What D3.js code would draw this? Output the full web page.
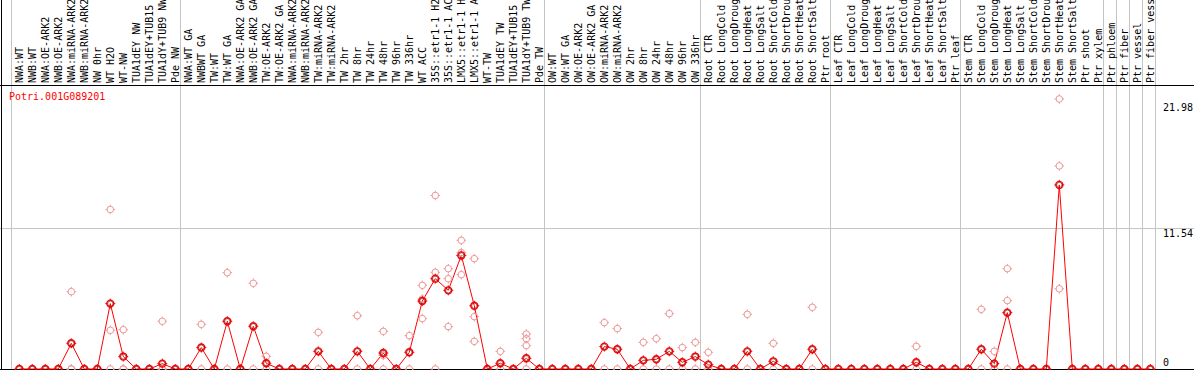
<!DOCTYPE html>
<html>
<head>
<meta charset="utf-8">
<script src="https://cdn.jsdelivr.net/npm/d3@7"></script>
<style>
  body { margin: 0; background: #fff; }
  svg { display: block; }
  text { font-family: "DejaVu Sans Mono", monospace; font-size: 10px; }
</style>
</head>
<body>
<script>

// sample names, one per column
const samples = [
    "NWA:WT", "NWB:WT", "NWA:OE-ARK2", "NWB:OE-ARK2", "NWA:miRNA-ARK2", "NWB:miRNA-ARK2", "NW 0hr", "WT H2O", "WT-NW",
    "TUA1dEY NW", "TUA1dEY+TUB15 NW", "TUA1dY+TUB9 NW", "Pde NW",
    "NWA:WT GA", "NWBWT GA", "TW:WT", "TW:WT GA", "NWA:OE-ARK2 GA", "NWB:OE-ARK2 GA", "TW:OE-ARK2", "TW:OE-ARK2 GA",
    "NWA:miRNA-ARK2", "NWB:miRNA-ARK2", "TW:miRNA-ARK2", "TW:miRNA-ARK2", "TW 2hr", "TW 8hr", "TW 24hr", "TW 48hr",
    "TW 96hr", "TW 336hr", "WT ACC", "35S::etr1-1 H2O", "35S::etr1-1 ACC", "LMX5::etr1-1 H2O", "LMX5::etr1-1 ACC",
    "WT-TW", "TUA1dEY TW", "TUA1dEY+TUB15 TW", "TUA1dY+TUB9 TW", "Pde TW",
    "OW:WT", "OW:WT GA", "OW:OE-ARK2", "OW:OE-ARK2 GA", "OW:miRNA-ARK2", "OW:miRNA-ARK2", "OW 2hr", "OW 8hr",
    "OW 24hr", "OW 48hr", "OW 96hr", "OW 336hr",
    "Root CTR", "Root LongCold", "Root LongDrought", "Root LongHeat", "Root LongSalt", "Root ShortCold",
    "Root ShortDrought", "Root ShortHeat", "Root ShortSalt", "Ptr root",
    "Leaf CTR", "Leaf LongCold", "Leaf LongDrought", "Leaf LongHeat", "Leaf LongSalt", "Leaf ShortCold",
    "Leaf ShortDrought", "Leaf ShortHeat", "Leaf ShortSalt", "Ptr leaf",
    "Stem CTR", "Stem LongCold", "Stem LongDrought", "Stem LongHeat", "Stem LongSalt", "Stem ShortCold",
    "Stem ShortDrought", "Stem ShortHeat", "Stem ShortSalt", "Ptr shoot", "Ptr xylem",
    "Ptr phloem", "Ptr fiber", "Ptr vessel", "Ptr fiber vessel"
]

// first column of every experiment block (last entry = end)
const groupStarts = [0, 13, 41, 53, 63, 73, 84, 85, 86, 87, 88]

// mean expression per sample
const means = [
    0, 0, 0, 0, 2.11, 0, 0, 5.37, 1.02, 0, 0, 0.44, 0,
    0, 1.76, 0, 3.92, 0, 3.51, 0.47, 0, 0, 0, 1.45, 0, 0, 1.45, 0, 1.31, 0, 1.37,
    5.58, 7.42, 6.46, 9.33, 5.2, 0, 0.47, 0, 0.88, 0,
    0, 0, 0, 0, 1.84, 1.62, 0, 0.71, 0.8, 1.45, 0.55, 1.02,
    0.36, 0, 0, 1.45, 0, 0.63, 0, 0, 1.62, 0,
    0, 0, 0, 0, 0, 0, 0.55, 0, 0, 0,
    0, 1.62, 0.44, 4.63, 0, 0, 0, 15.12, 0, 0, 0,
    0, 0, 0, 0
]

// replicate values per sample
const replicates = [
    [], [], [], [], [6.35, 0, 0], [], [], [13.1, 3.18, 0], [3.23, 0, 0], [], [], [3.92, 0, 0], [],
    [], [3.67, 0], [], [7.91, 0], [], [7.04, 0], [1.04, 0], [], [], [], [3.01, 0], [], [], [4.38, 0], [],
    [3.09, 1.12, 0], [], [2.74, 0],
    [6.87, 5.75, 4.14], [14.25, 7.94, 0], [8.24, 7.42, 3.48], [10.57, 9.56, 7.75], [9.06, 4.3, 2.27],
    [], [1.45, 0], [], [2.87, 2.49, 1.92, 0], [],
    [], [], [], [], [3.81, 0], [3.32, 0], [], [2.19, 0], [2.49, 0], [4.55, 0], [1.76, 0], [2.19, 0],
    [1.37, 0], [], [], [4.49, 0], [], [2.11, 0], [], [], [5.07, 0], [],
    [], [], [], [], [], [], [1.86, 0], [], [], [],
    [], [4.9, 0], [1.45, 0], [8.24, 5.62, 0], [], [], [], [22.18, 16.68, 6.59], [], [], [],
    [], [], [], []
]

const yTicks = [0, 11.54, 21.98]
const geneName = "Potri.001G089201"


const width = 1194
const height = 370

const svg = d3.select("body").append("svg")
    .attr("width", width)
    .attr("height", height)

const xScale = d3.scaleLinear()
    .domain([0, samples.length - 1])
    .range([19.3, 19.3 + 13 * (samples.length - 1)])

const yScale = d3.scaleLinear()
    .domain([0, 11.54])
    .range([369, 228.5])

// vertical block separators
svg.append("g").selectAll("line")
    .data(groupStarts)
    .enter()
    .append("line")
    .attr("x1", d => Math.round(xScale(d) - 8) + 0.5)
    .attr("x2", d => Math.round(xScale(d) - 8) + 0.5)
    .attr("y1", 0)
    .attr("y2", height)
    .attr("stroke", "#c4c4c4")

// grid line at middle tick
svg.append("line")
    .attr("x1", 0).attr("x2", width)
    .attr("y1", yScale(11.54)).attr("y2", yScale(11.54))
    .attr("stroke", "#c4c4c4")

// frame
svg.append("line")
    .attr("x1", 0).attr("x2", width)
    .attr("y1", 85.5).attr("y2", 85.5)
    .attr("stroke", "#000")
svg.append("line")
    .attr("x1", 0).attr("x2", width)
    .attr("y1", yScale(0) + 0.5).attr("y2", yScale(0) + 0.5)
    .attr("stroke", "#000")
svg.append("line")
    .attr("x1", 1.5).attr("x2", 1.5)
    .attr("y1", 0).attr("y2", height)
    .attr("stroke", "#000")

// sample labels
svg.append("g").selectAll("text")
    .data(samples)
    .enter()
    .append("text")
    .attr("transform", (d, i) => "translate(" + xScale(i) + ",83) rotate(-90)")
    .attr("dominant-baseline", "central")
    .attr("fill", "#000")
    .text(d => d)

// y tick labels
const tickDy = { 0: -3, 11.54: 8, 21.98: 10 }
svg.append("g").selectAll("text")
    .data(yTicks)
    .enter()
    .append("text")
    .attr("x", 1163)
    .attr("y", d => yScale(d) + tickDy[d])
    .attr("fill", "#000")
    .text(d => d)

svg.append("text")
    .attr("x", 9)
    .attr("y", 100)
    .attr("fill", "#f00")
    .text(geneName)

// mean line
const line = d3.line()
    .x((d, i) => xScale(i))
    .y(d => yScale(d))

svg.append("path")
    .datum(means)
    .attr("d", line)
    .attr("fill", "none")
    .attr("stroke", "#f00")
    .attr("stroke-width", 1)

function marker(sel, r, color, sw) {
    sel.append("circle")
        .attr("r", r)
        .attr("fill", "none")
        .attr("stroke", color)
        .attr("stroke-width", sw)
    sel.append("path")
        .attr("d", "M0," + (-r - 1.5) + "V" + (-r + 0.5) + "M0," + (r - 0.5) + "V" + (r + 1.5) +
            "M" + (-r - 1.5) + ",0H" + (-r + 0.5) + "M" + (r - 0.5) + ",0H" + (r + 1.5))
        .attr("stroke", color)
        .attr("stroke-width", 1)
}

// replicate points
const repPoints = []
replicates.forEach((vals, i) => vals.forEach(v => repPoints.push({ i: i, v: v })))

svg.append("g").selectAll("g")
    .data(repPoints)
    .enter()
    .append("g")
    .attr("transform", d => "translate(" + xScale(d.i) + "," + yScale(d.v) + ")")
    .call(marker, 3.3, "#ee9999", 1)

// mean points
svg.append("g").selectAll("g")
    .data(means)
    .enter()
    .append("g")
    .attr("transform", (d, i) => "translate(" + xScale(i) + "," + yScale(d) + ")")
    .call(marker, 3.5, "#f00", 1.4)
    .append("circle")
    .attr("r", 2.6)
    .attr("fill", "none")
    .attr("stroke", "#600")
    .attr("stroke-width", 0.6)

</script>
</body>
</html>
